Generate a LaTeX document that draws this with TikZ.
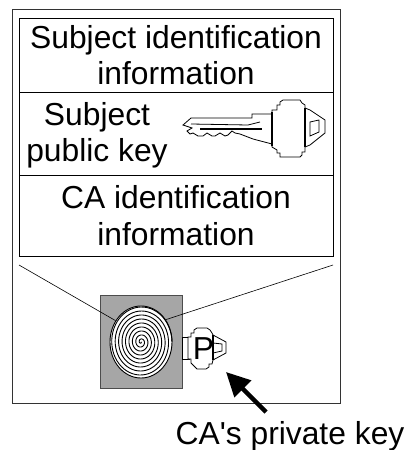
\documentclass[tikz,border=0pt]{standalone}
\usepackage{fontspec}
\setmainfont{Liberation Sans}
\usetikzlibrary{arrows.meta,shapes.geometric}
\tikzset{
  field/.style={rectangle,draw=black,line width=0.6pt,inner sep=0pt,minimum width=314pt,align=center,font=\fontsize{31.8}{36.5}\selectfont},
  caption/.style={inner sep=0pt,align=center,font=\fontsize{31.8}{36}\selectfont},
  keyline/.style={line width=0.8pt,line join=miter},
  keythick/.style={line width=2pt}
}
\begin{document}
\begin{tikzpicture}[x=1pt,y=-1pt]
\useasboundingbox (0,0) rectangle (406,450);
\node (cert) [rectangle,draw=black!80,line width=0.9pt,inner sep=0pt,minimum width=328pt,minimum height=394pt] at (176,206) {};
\node (subject) [field,minimum height=74.5pt] at (176,55.25) {Subject identification\\information};
\node (pubkey) [field,minimum height=82.5pt] at (176,133.75) {};
\node (issuer) [field,minimum height=81pt] at (176,215.5) {CA identification\\information};
\node (pubtext) [caption] at (97,135) {Subject\\public key};
% signature
\node (sigbox) [rectangle,draw=black!70,fill=black!35,line width=0.7pt,inner sep=0pt,minimum width=82pt,minimum height=93pt] at (141,341.5) {};
\node (seal) [ellipse,draw=black,fill=white,line width=0.9pt,inner sep=0pt,minimum width=62pt,minimum height=72pt] at (141,342) {};
\draw[line width=0.9pt] plot[domain=0:3240,samples=500,smooth] ({141+31*(\x/3240)*cos(\x)},{342+36*(\x/3240)*sin(\x)});
\coordinate (lfan) at (19,265);
\coordinate (rfan) at (333,265);
\draw[line width=0.6pt] (lfan) -- (seal.140);
\draw[line width=0.6pt] (rfan) -- (seal.42);
% large key
\draw[keyline,fill=white] (183,125) -- (191,118) -- (252,118) -- (252,114) -- (272,114) -- (272,110) -- (277,110) -- (277,105) -- (280,105) -- (280,102) -- (283,100) -- (300,100) -- (302,103) -- (305,105) -- (305,108) -- (310,110) -- (325,120) -- (325,133) -- (310,145) -- (305,147) -- (305,152) -- (302,152) -- (302,155) -- (300,157) -- (283,157) -- (280,157) -- (280,153) -- (277,153) -- (277,150) -- (272,147) -- (272,144) -- (253,139) -- (240,134) -- (235,133) -- (232,131) -- (228,135) -- (225,136) -- (220,133) -- (215,136) -- (212,136) -- (207,133) -- (203,136) -- (198,136) -- (193,133) -- (190,134) -- (187,131) -- (192,128) -- cycle;
\draw[keyline] (191,124) -- (248,125) -- (260,122);
\draw[keyline] (310,122) -- (319,120) -- (319,132) -- (310,136) -- cycle;
\draw[keythick] (200,128.5) -- (262,128.5);
\draw[keythick] (272,112) -- (272,146);
\draw[keythick] (305,108) -- (305,147);
% small key
\node (pvtstem) [rectangle,draw=black,fill=white,line width=0.7pt,inner sep=0pt,minimum width=7pt,minimum height=22pt] at (185.5,348) {};
\draw[keyline,fill=white] (188,337) -- (191,337) -- (191,333) -- (194,333) -- (194,330) -- (197,328) -- (207,328) -- (210,330) -- (212,333) -- (213,335) -- (226,342) -- (226,353) -- (213,360) -- (212,364) -- (209,364) -- (209,367) -- (206,369) -- (197,369) -- (194,366) -- (191,363) -- (191,359) -- (188,359) -- cycle;
\draw[keyline] (213,343) -- (222,344) -- (222,351) -- (213,353) -- cycle;
\draw[keythick] (213,335) -- (213,360);
\node (pvtletter) [inner sep=0pt,font=\fontsize{31.8}{36}\selectfont] at (203.5,349) {P};
% pointer
\node (pvttext) [caption] at (290,436) {CA\textquotesingle s private key};
\coordinate (tiptail) at (266,412);
\coordinate (tiphead) at (226,372);
\draw[-{Triangle[length=24pt,width=23pt]},line width=4.5pt] (tiptail) -- (tiphead);
\end{tikzpicture}
\end{document}
